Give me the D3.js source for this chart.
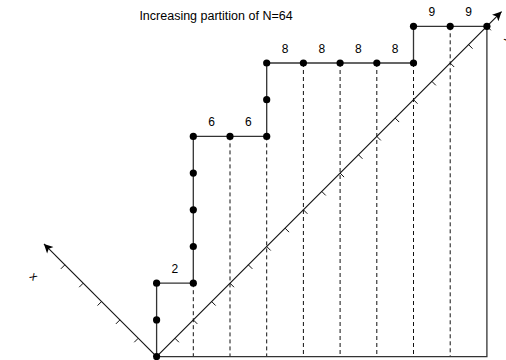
<!DOCTYPE html>
<html>
<head>
<meta charset="utf-8">
<script src="https://cdn.jsdelivr.net/npm/d3@7"></script>
<style>
  body { margin: 0; background: #fff; }
  svg { display: block; font-family: "Liberation Sans", Arial, sans-serif; }
</style>
</head>
<body>
<script>
// parts of the partition, one per column
var parts = [2, 6, 6, 8, 8, 8, 8, 9, 9];
var title = 'Increasing partition of N=64';
var diagTicks = [0.5, 1, 1.5, 2, 2.5, 3, 3.5, 4, 4.5, 5, 5.5, 6, 6.5, 7, 7.5, 8, 8.5, 9];
var leftTicks = [0.5, 1, 1.5, 2, 2.5];
var diagEnd = 9.4, leftEnd = 3.07;

var W = 506, H = 360;
var svg = d3.select('body').append('svg')
  .attr('width', W)
  .attr('height', H);

var u = 36.7;
var x = d3.scaleLinear().domain([0, 9]).range([156.6, 156.6 + 9 * u]);
var y = d3.scaleLinear().domain([0, 9]).range([356.6, 356.6 - 9 * u]);

svg.append('defs').append('marker')
  .attr('id', 'arr')
  .attr('viewBox', '0 0 10 10')
  .attr('refX', 10).attr('refY', 5)
  .attr('markerWidth', 12).attr('markerHeight', 9)
  .attr('markerUnits', 'userSpaceOnUse')
  .attr('orient', 'auto')
  .append('path').attr('d', 'M0,0 L10,5 L0,10 L2.5,5 Z').attr('fill', '#000');

var n = parts.length;

// dashed verticals
var dashCols = d3.range(1, n);
svg.selectAll('line.dash').data(dashCols).enter().append('line')
  .attr('class', 'dash')
  .attr('x1', function(i) { return x(i); })
  .attr('x2', function(i) { return x(i); })
  .attr('y1', function(i) { return y(parts[i - 1]); })
  .attr('y2', y(0))
  .attr('stroke', '#111')
  .attr('stroke-width', 1)
  .attr('stroke-dasharray', '4,3');

// bottom and right solid edges
svg.append('path')
  .attr('d', d3.line()([[x(0), y(0)], [x(n), y(0)], [x(n), y(parts[n - 1])]]))
  .attr('fill', 'none').attr('stroke', '#333').attr('stroke-width', 1.3);

// diagonal axis
svg.append('line')
  .attr('x1', x(0)).attr('y1', y(0))
  .attr('x2', x(diagEnd)).attr('y2', y(diagEnd))
  .attr('stroke', '#111').attr('stroke-width', 1.1)
  .attr('marker-end', 'url(#arr)');

svg.selectAll('line.dtick').data(diagTicks).enter().append('line')
  .attr('class', 'dtick')
  .attr('x1', function(d) { return x(d); })
  .attr('y1', function(d) { return y(d); })
  .attr('x2', function(d) { return x(d) + 4; })
  .attr('y2', function(d) { return y(d) + 4; })
  .attr('stroke', '#111').attr('stroke-width', 1);

// left axis
svg.append('line')
  .attr('x1', x(0)).attr('y1', y(0))
  .attr('x2', x(-leftEnd)).attr('y2', y(leftEnd))
  .attr('stroke', '#111').attr('stroke-width', 1.1)
  .attr('marker-end', 'url(#arr)');

svg.selectAll('line.ltick').data(leftTicks).enter().append('line')
  .attr('class', 'ltick')
  .attr('x1', function(d) { return x(-d); })
  .attr('y1', function(d) { return y(d); })
  .attr('x2', function(d) { return x(-d) - 4; })
  .attr('y2', function(d) { return y(d) + 4; })
  .attr('stroke', '#111').attr('stroke-width', 1);

// staircase
var pts = [[0, 0]], dots = [[0, 0]], prev = 0;
parts.forEach(function(p, i) {
  for (var v = prev + 1; v <= p; v++) dots.push([i, v]);
  pts.push([i, p]);
  pts.push([i + 1, p]);
  dots.push([i + 1, p]);
  prev = p;
});

svg.append('path')
  .attr('d', d3.line().x(function(d) { return x(d[0]); }).y(function(d) { return y(d[1]); })(pts))
  .attr('fill', 'none').attr('stroke', '#333').attr('stroke-width', 1.3);

svg.selectAll('circle').data(dots).enter().append('circle')
  .attr('cx', function(d) { return x(d[0]); })
  .attr('cy', function(d) { return y(d[1]); })
  .attr('r', 3.6)
  .attr('fill', '#000');

// part labels
svg.selectAll('text.part').data(parts).enter().append('text')
  .attr('class', 'part')
  .attr('x', function(d, i) { return x(i + 0.5); })
  .attr('y', function(d) { return y(d) - 10; })
  .attr('text-anchor', 'middle')
  .attr('font-size', 12)
  .text(function(d) { return d; });

svg.append('text')
  .attr('x', 216).attr('y', 20)
  .attr('text-anchor', 'middle')
  .attr('font-size', 12.5)
  .text(title);

svg.append('text')
  .attr('transform', 'translate(31,279) rotate(45)')
  .attr('text-anchor', 'middle')
  .attr('font-size', 12)
  .text('x');

svg.append('text')
  .attr('transform', 'translate(510,42) rotate(-45)')
  .attr('text-anchor', 'middle')
  .attr('font-size', 12)
  .text('y');
</script>
</body>
</html>
